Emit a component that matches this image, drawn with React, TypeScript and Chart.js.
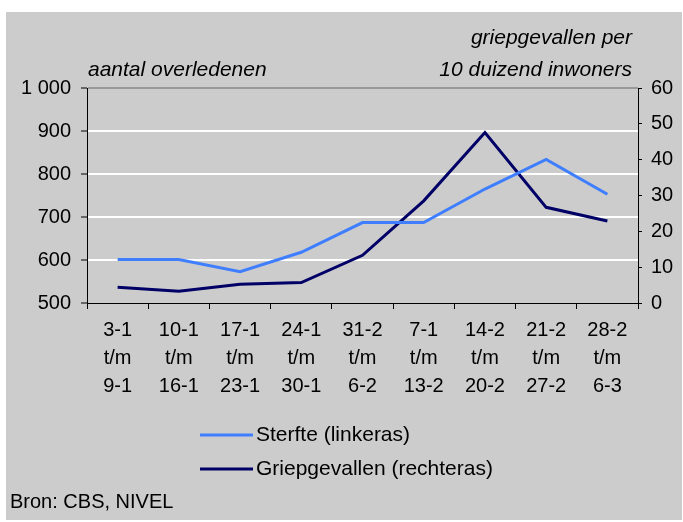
import React, { useEffect, useRef } from "react";
import { Chart, registerables } from "chart.js";

Chart.register(...registerables);

const categories: string[][] = [
  ["3-1", "t/m", "9-1"],
  ["10-1", "t/m", "16-1"],
  ["17-1", "t/m", "23-1"],
  ["24-1", "t/m", "30-1"],
  ["31-2", "t/m", "6-2"],
  ["7-1", "t/m", "13-2"],
  ["14-2", "t/m", "20-2"],
  ["21-2", "t/m", "27-2"],
  ["28-2", "t/m", "6-3"],
];
const sterfte = [601, 601, 573, 618, 687, 687, 765, 834, 753];
const griep = [4.4, 3.3, 5.2, 5.7, 13.3, 28.5, 47.6, 26.7, 22.9];

const leftTitle = "aantal overledenen";
const rightTitle = ["griepgevallen per", "10 duizend inwoners"];
const legendLabels = ["Sterfte (linkeras)", "Griepgevallen (rechteras)"];
const sourceText = "Bron: CBS, NIVEL";

const LIGHT = "#3f7fff";
const DARK = "#000066";
const FONT = "'Liberation Sans', Arial, sans-serif";

const decor = {
  id: "decor",
  beforeDraw(chart: any) {
    const c = chart.ctx;
    c.save();
    c.fillStyle = "#ffffff";
    c.fillRect(0, 0, chart.width, chart.height);
    c.fillStyle = "#cccccc";
    c.fillRect(6, 12, 676, 508);
    c.restore();
  },
  afterDraw(chart: any) {
    const c = chart.ctx;
    const area = chart.chartArea;
    c.save();
    c.fillStyle = "#000";
    c.textBaseline = "middle";
    c.font = `italic 21px ${FONT}`;
    c.textAlign = "left";
    c.fillText(leftTitle, area.left + 1, 70);
    c.textAlign = "right";
    c.fillText(rightTitle[0], 632, 38);
    c.fillText(rightTitle[1], 632, 70);

    c.font = `21px ${FONT}`;
    c.textAlign = "left";
    const rows = [
      { y: 435, color: LIGHT, text: legendLabels[0] },
      { y: 469, color: DARK, text: legendLabels[1] },
    ];
    rows.forEach((r) => {
      c.strokeStyle = r.color;
      c.lineWidth = 3;
      c.beginPath();
      c.moveTo(200, r.y);
      c.lineTo(253, r.y);
      c.stroke();
      c.fillStyle = "#000";
      c.fillText(r.text, 256, r.y);
    });
    c.font = `20px ${FONT}`;
    c.fillText(sourceText, 10, 502);
    c.restore();
  },
};

export default function App() {
  const ref = useRef<HTMLCanvasElement | null>(null);
  useEffect(() => {
    if (!ref.current) return;
    const chart = new Chart(ref.current, {
      type: "line",
      data: {
        labels: categories,
        datasets: [
          {
            label: legendLabels[0],
            data: sterfte,
            borderColor: LIGHT,
            backgroundColor: LIGHT,
            borderWidth: 3,
            pointRadius: 0,
            tension: 0,
            yAxisID: "y",
          },
          {
            label: legendLabels[1],
            data: griep,
            borderColor: DARK,
            backgroundColor: DARK,
            borderWidth: 3,
            pointRadius: 0,
            tension: 0,
            yAxisID: "y1",
          },
        ],
      },
      options: {
        animation: false,
        responsive: false,
        maintainAspectRatio: false,
        layout: { padding: { top: 88, left: 0, right: 0, bottom: 0 } },
        plugins: { legend: { display: false }, tooltip: { enabled: false } },
        scales: {
          x: {
            offset: true,
            grid: {
              offset: true,
              drawOnChartArea: false,
              drawTicks: true,
              tickLength: 6,
              color: "#000",
            },
            border: { display: true, color: "#000", width: 1 },
            ticks: {
              color: "#000",
              font: { family: FONT, size: 20, lineHeight: 1.4 },
              padding: 7,
              maxRotation: 0,
              autoSkip: false,
            },
            afterFit(scale: any) {
              scale.height = 219;
            },
          },
          y: {
            position: "left",
            min: 500,
            max: 1000,
            ticks: {
              stepSize: 100,
              color: "#000",
              font: { family: FONT, size: 20 },
              padding: 10,
              callback: (v: any) => (v === 1000 ? "1 000" : String(v)),
            },
            grid: {
              color: (ctx: any) =>
                ctx.tick && ctx.tick.value === 1000
                  ? "#999999"
                  : ctx.tick && ctx.tick.value === 500
                  ? "rgba(0,0,0,0)"
                  : "#ffffff",
              lineWidth: 2,
              tickColor: "#000",
              tickLength: 6,
              tickWidth: 1,
            },
            border: { display: true, color: "#000", width: 1 },
            afterFit(scale: any) {
              scale.width = 87;
            },
          },
          y1: {
            position: "right",
            min: 0,
            max: 60,
            ticks: {
              stepSize: 10,
              color: "#000",
              font: { family: FONT, size: 20 },
              padding: 9,
            },
            grid: {
              drawOnChartArea: false,
              tickColor: "#000",
              tickLength: 4,
            },
            border: { display: true, color: "#000", width: 1 },
            afterFit(scale: any) {
              scale.width = 45;
            },
          },
        },
      },
      plugins: [decor],
    });
    return () => chart.destroy();
  }, []);
  return (
    <div style={{ position: "absolute", left: 0, top: 0, width: 683, height: 522 }}>
      <canvas ref={ref} width={683} height={522} style={{ width: 683, height: 522, display: "block" }} />
    </div>
  );
}
